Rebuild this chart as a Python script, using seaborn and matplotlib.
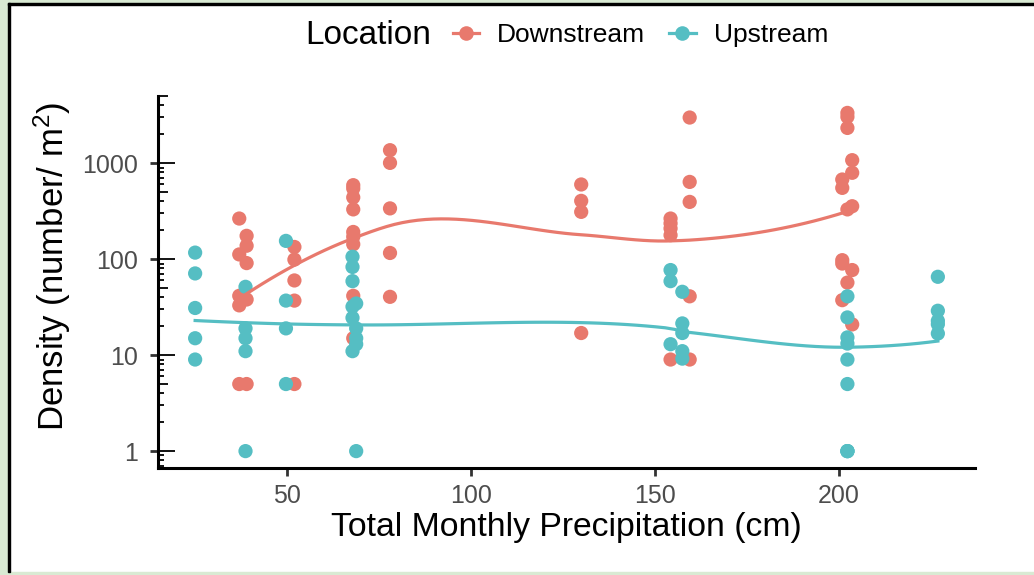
import numpy as np
import pandas as pd
import matplotlib
matplotlib.use("Agg")
import matplotlib.pyplot as plt
import matplotlib.transforms as mtransforms
from matplotlib.lines import Line2D
from matplotlib.patches import Rectangle
import seaborn as sns

# ---------------- data ----------------
down_x = [37, 37, 37, 37, 37,
          39, 39, 39, 39, 39,
          52, 52, 52, 52, 52,
          68, 68, 68, 68, 68, 68, 68, 68, 68,
          78, 78, 78, 78, 78,
          130, 130, 130, 130,
          154.3, 154.3, 154.3, 154.3, 154.3,
          159.5, 159.5, 159.5, 159.5, 159.5,
          202.4, 202.4, 202.4, 203.7, 203.7, 201, 201, 203.7, 202.4,
          201, 201, 203.7, 202.4, 201, 203.7]
down_y = [265, 112, 41.5, 33, 5,
          175, 138, 91, 38, 5,
          134, 99, 60, 37, 5,
          590, 545, 440, 330, 192, 171, 143, 41.5, 15,
          1366, 1007, 338, 116, 40.5,
          600, 405, 311, 17,
          265, 236, 209, 178, 9,
          2990, 638, 395, 41, 9,
          3340, 3040, 2330, 1075, 794, 676, 553, 356, 330,
          97.6, 90, 77, 57, 37.4, 20.9]
# (the lowest value at ~202 is overplotted: three samples at density 1)
up_x = [25, 25, 25, 25, 25,
        38.7, 38.7, 38.7, 38.7, 38.7,
        49.7, 49.7, 49.7, 49.7,
        67.8, 67.8, 67.8, 67.8, 67.8, 67.8,
        68.8, 68.8, 68.8, 68.8, 68.8,
        154.3, 154.3, 154.3,
        157.5, 157.5, 157.5, 157.5, 157.5,
        202.4, 202.4, 202.4, 202.4, 202.4, 202.4, 202.4, 202.4, 202.4,
        227, 227, 227, 227, 227]
up_y = [117, 71, 31, 15, 9,
        51.5, 19, 15, 11, 1,
        155, 37, 19, 5,
        106, 83, 59, 32, 24.5, 11,
        34.5, 19, 15, 13, 1,
        77, 59, 13,
        45.7, 21.4, 17, 11, 9.2,
        41, 24.7, 15.3, 13.2, 9, 5, 1, 1, 1,
        65.5, 29, 22.8, 21, 16.8]

locations = ["Downstream", "Upstream"]
palette = {"Downstream": "#E8796D", "Upstream": "#55BEC3"}
y_ticks = [1, 10, 100, 1000]
x_ticks = [50, 100, 150, 200]

df = pd.concat([
    pd.DataFrame({"Precip": down_x, "Density": down_y, "Location": "Downstream"}),
    pd.DataFrame({"Precip": up_x, "Density": up_y, "Location": "Upstream"}),
], ignore_index=True)


# ---------------- loess (span .75, degree 2, kd-tree + Hermite interpolation) ----------------
def local_fit(x, y, x0, q):
    n = len(x)
    d = np.abs(x - x0)
    h = np.sort(d)[q - 1]
    w = np.clip(1 - (d / h) ** 3, 0, None) ** 3
    X = np.vstack([np.ones(n), x - x0, (x - x0) ** 2]).T
    sw = np.sqrt(w)
    beta = np.linalg.lstsq(X * sw[:, None], y * sw, rcond=None)[0]
    return beta[0], beta[1]


def kd_vertices(x, fc):
    xs = np.sort(x)
    n = len(xs)
    mu = 0.005 * (xs[-1] - xs[0])
    vlo0, vhi0 = xs[0] - mu, xs[-1] + mu
    verts = [vlo0, vhi0]
    stack = [(0, n - 1, vlo0, vhi0)]
    while stack:
        l, u, vlo, vhi = stack.pop()
        if u - l + 1 <= fc:
            continue
        m = (l + u) // 2
        off = 0
        while True:
            if m + off >= u or m + off < l:
                break
            if xs[m + off] == xs[m + off + 1]:
                off = -off
                if off >= 0:
                    off += 1
            else:
                m = m + off
                break
        xi = xs[m]
        if xi == vlo or xi == vhi:
            continue
        verts.append(xi)
        stack.append((l, m, vlo, xi))
        stack.append((m + 1, u, xi, vhi))
    return np.array(sorted(set(verts)))


def loess(x, y, grid, span=0.75, cell=0.2):
    x = np.asarray(x, float)
    y = np.asarray(y, float)
    n = len(x)
    q = int(np.floor(n * span))
    fc = int(np.floor(n * span * cell))
    v = kd_vertices(x, fc)
    vals = np.array([local_fit(x, y, vv, q) for vv in v])
    out = []
    for g in grid:
        i = min(max(np.searchsorted(v, g) - 1, 0), len(v) - 2)
        x0, x1 = v[i], v[i + 1]
        hgt = x1 - x0
        t = (g - x0) / hgt
        h00 = 2 * t ** 3 - 3 * t ** 2 + 1
        h10 = t ** 3 - 2 * t ** 2 + t
        h01 = -2 * t ** 3 + 3 * t ** 2
        h11 = t ** 3 - t ** 2
        out.append(h00 * vals[i, 0] + h10 * hgt * vals[i, 1]
                   + h01 * vals[i + 1, 0] + h11 * hgt * vals[i + 1, 1])
    return np.array(out)


smooth_parts = []
for loc in locations:
    sub = df[df.Location == loc]
    xs = np.linspace(sub.Precip.min(), sub.Precip.max(), 80)
    ys = 10 ** loess(sub.Precip.values, np.log10(sub.Density.values), xs)
    smooth_parts.append(pd.DataFrame({"Precip": xs, "Density": ys, "Location": loc}))
smooth = pd.concat(smooth_parts, ignore_index=True)

# ---------------- figure ----------------
plt.rcParams["font.family"] = ["Liberation Sans", "DejaVu Sans"]
plt.rcParams["mathtext.fontset"] = "custom"
plt.rcParams["mathtext.rm"] = "Liberation Sans"
plt.rcParams["mathtext.it"] = "Liberation Sans"

W, H = 1034, 575
fig = plt.figure(figsize=(W / 100, H / 100), dpi=100)
fig.patch.set_facecolor("white")

# screenshot frame
green = "#D9EAD3"
fig.patches.append(Rectangle((0, 0), 8 / W, 1, transform=fig.transFigure, color=green, zorder=0))
fig.patches.append(Rectangle((0, 1 - 3 / H), 1, 3 / H, transform=fig.transFigure, color=green, zorder=0))
fig.patches.append(Rectangle((0, 0), 1, 3 / H, transform=fig.transFigure, color=green, zorder=0))
fig.patches.append(Rectangle((8 / W, 3 / H), 2 / W, 1 - 6 / H, transform=fig.transFigure, color="black", zorder=1))
fig.patches.append(Rectangle((8 / W, 1 - 5 / H), 1 - 8 / W, 2 / H, transform=fig.transFigure, color="black", zorder=1))

L, R, T, B = 158, 975, 96, 468
ax = fig.add_axes([L / W, 1 - B / H, (R - L) / W, (B - T) / H])
ax.set_facecolor("white")

sns.scatterplot(data=df, x="Precip", y="Density", hue="Location",
                hue_order=["Upstream", "Downstream"], palette=palette,
                s=105, linewidth=0, alpha=1, legend=False, ax=ax, zorder=2)
sns.lineplot(data=smooth, x="Precip", y="Density", hue="Location",
             hue_order=locations, palette=palette, linewidth=2.3,
             legend=False, ax=ax, zorder=3, sort=False, estimator=None)

ax.set_yscale("log")
ax.set_ylim(10 ** -0.176, 10 ** 3.70)
ax.set_xlim(14.9, 237.1)
ax.set_yticks(y_ticks)
ax.set_yticklabels([str(v) for v in y_ticks])
ax.yaxis.set_minor_locator(matplotlib.ticker.NullLocator())
ax.set_xticks(x_ticks)
ax.set_xticklabels([str(v) for v in x_ticks])

for s in ["top", "right"]:
    ax.spines[s].set_visible(False)
for s in ["left", "bottom"]:
    ax.spines[s].set_linewidth(2.2)
    ax.spines[s].set_color("black")
    ax.spines[s].set_capstyle("projecting")
ax.tick_params(axis="both", which="major", direction="out", length=5.8, width=2.0,
               color="#333333", labelsize=18, labelcolor="#4D4D4D", pad=5.5)
ax.tick_params(axis="y", which="major", pad=8.5)

# log ticks inside the panel (annotation_logticks style)
trans = mtransforms.blended_transform_factory(ax.transAxes, ax.transData)
pw = R - L
lo, hi = ax.get_ylim()
for e in range(-1, 4):
    for m in range(1, 10):
        val = m * 10.0 ** e
        if val < lo or val > hi:
            continue
        if m == 1:
            ln = 17 / pw
        elif m == 5:
            ln = 10 / pw
        else:
            ln = 6 / pw
        ax.plot([0, ln], [val, val], transform=trans, color="black", lw=1.3,
                solid_capstyle="butt", clip_on=False, zorder=4)

ax.set_xlabel("Total Monthly Precipitation (cm)", fontsize=24.3, color="black")
ax.set_ylabel("Density (number/ m$^2$)", fontsize=25, color="black")
ax.xaxis.set_label_coords(0.5, -0.118)
ax.yaxis.set_label_coords(-0.104, 0.543)

# legend
handles = [Line2D([], [], color=palette[l], marker="o", markersize=10.5, lw=2.3,
                  markeredgewidth=0) for l in locations]
fig.legend(handles, locations, ncol=2, loc="center left",
           bbox_to_anchor=(453 / W, 1 - 35 / H), frameon=False, fontsize=19,
           handlelength=1.0, handletextpad=0.68, columnspacing=0.9,
           borderpad=0, borderaxespad=0)
fig.text(305 / W, 1 - 35 / H, "Location", fontsize=24, ha="left", va="center")

fig.savefig("out.png", dpi=100, facecolor=fig.get_facecolor())
